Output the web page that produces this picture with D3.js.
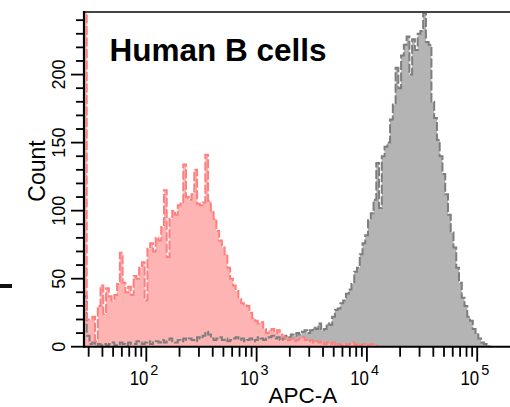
<!DOCTYPE html>
<html>
<head>
<meta charset="utf-8">
<script src="https://cdn.jsdelivr.net/npm/d3@7"></script>
<style>
  body { margin: 0; background: #fff; }
  svg { display: block; font-family: "Liberation Sans", Arial, sans-serif; }
</style>
</head>
<body>
<svg id="chart" width="510" height="407"></svg>
<script>
///////////////////Data////////////////////////////
// histogram channels start at 10^binLog0, each one binStep decades wide
var binLog0 = 1.435;
var binStep = 0.025;

// red = stained sample, counts per channel
var redCounts = [400, 20, 20, 22, 4, 30, 45, 24, 43, 37,
  34, 38, 46, 69, 47, 40, 44, 38, 52, 50,
  58, 62, 34, 72, 76, 70, 80, 78, 88, 115,
  66, 94, 100, 97, 104, 106, 134, 110, 108, 112,
  130, 105, 104, 106, 141, 107, 100, 94, 85, 78,
  73, 68, 58, 50, 45, 41, 35, 32, 31, 30,
  25, 21, 19, 17, 18, 13, 10, 12, 13, 10,
  12, 9, 7, 6, 5, 6, 4, 5, 6, 7,
  5, 4, 5, 3, 4, 3, 4, 2, 3, 2,
  3, 1, 2, 1, 2, 1, 2, 3, 1, 2,
  1, 2, 1, 1, 2, 1, 0];

// gray = second sample
var grayCounts = [37, 8, 2, 3, 1, 2, 1, 2, 1, 2,
  3, 1, 2, 3, 2, 1, 3, 2, 2, 4,
  3, 2, 3, 4, 2, 3, 4, 3, 5, 3,
  4, 6, 4, 3, 5, 4, 6, 5, 6, 5,
  4, 7, 6, 8, 11, 9, 6, 5, 6, 7,
  5, 6, 4, 5, 6, 7, 5, 6, 4, 5,
  6, 4, 5, 7, 6, 5, 6, 7, 8, 6,
  7, 5, 6, 8, 7, 9, 8, 10, 9, 11,
  12, 10, 12, 14, 13, 17, 12, 13, 17, 16,
  22, 27, 28, 32, 34, 39, 42, 46, 55, 58,
  68, 76, 82, 93, 98, 108, 135, 102, 140, 147,
  150, 167, 178, 205, 190, 214, 222, 228, 200, 226,
  218, 230, 232, 245, 224, 222, 180, 168, 152, 140,
  127, 112, 97, 84, 73, 58, 47, 36, 30, 22,
  19, 13, 10, 6, 3, 2, 1, 0];

var xMajor = [2, 3, 4, 5];           // exponents of labelled decades
var yTicks = d3.range(0, 250, 10);
var yLabels = [0, 50, 100, 150, 200];

var title = "Human B cells";
var xTitle = "APC-A";
var yTitle = "Count";

///////////////////Scales////////////////////////////
var svg = d3.select("#chart");
var pLeft = 84, pRight = 510.3, pTop = 12, pBottom = 346.7;

var x = d3.scaleLog()
  .domain([Math.pow(10, 1.435), Math.pow(10, 5.3)])
  .range([pLeft, pRight]);
var y = d3.scaleLinear()
  .domain([0, 246])
  .range([pBottom, pTop]);

svg.append("clipPath").attr("id", "plotClip")
  .append("rect")
  .attr("x", pLeft).attr("y", pTop)
  .attr("width", pRight - pLeft).attr("height", pBottom - pTop);

// turn counts into step points: start at 0, one point per channel edge, back to 0
function stepPoints(counts) {
  var pts = [{e: Math.pow(10, binLog0), c: 0}];
  counts.forEach(function(c, i) {
    pts.push({e: Math.pow(10, binLog0 + i * binStep), c: c});
  });
  pts.push({e: Math.pow(10, binLog0 + counts.length * binStep), c: 0});
  return pts;
}

var area = d3.area().curve(d3.curveStepAfter)
  .x(function(d) { return x(d.e); })
  .y0(pBottom)
  .y1(function(d) { return y(d.c); });
var line = d3.line().curve(d3.curveStepAfter)
  .x(function(d) { return x(d.e); })
  .y(function(d) { return y(d.c); });

var plot = svg.append("g").attr("clip-path", "url(#plotClip)");
var gray = stepPoints(grayCounts);
var red = stepPoints(redCounts);

plot.append("path").attr("d", area(gray)).attr("fill", "#b4b4b4");
plot.append("path").attr("d", area(red)).attr("fill", "#ffb4b4");
plot.append("path").attr("d", line(gray))
  .attr("fill", "none").attr("stroke", "#7d7d7d")
  .attr("stroke-width", 2).attr("stroke-dasharray", "9,2.5");
plot.append("path").attr("d", line(red))
  .attr("fill", "none").attr("stroke", "#ff7f7f")
  .attr("stroke-width", 2).attr("stroke-dasharray", "9,2.5");

///////////////////Frame + axes////////////////////////////
svg.append("line")
  .attr("x1", pLeft).attr("x2", 510).attr("y1", pTop).attr("y2", pTop)
  .attr("stroke", "#444").attr("stroke-width", 2);
svg.append("line")
  .attr("x1", pLeft).attr("x2", pLeft).attr("y1", pTop - 1).attr("y2", pBottom + 1)
  .attr("stroke", "#000").attr("stroke-width", 2.2);
svg.append("line")
  .attr("x1", pLeft).attr("x2", 510).attr("y1", pBottom).attr("y2", pBottom)
  .attr("stroke", "#000").attr("stroke-width", 2);

// y ticks, longer on labelled values
svg.append("g").selectAll("line").data(yTicks).enter().append("line")
  .attr("x1", function(d) { return yLabels.indexOf(d) >= 0 ? pLeft - 13 : pLeft - 8; })
  .attr("x2", pLeft)
  .attr("y1", function(d) { return y(d); })
  .attr("y2", function(d) { return y(d); })
  .attr("stroke", "#000").attr("stroke-width", 1.8);

svg.append("g").selectAll("text").data(yLabels).enter().append("text")
  .attr("transform", function(d) { return "translate(65," + y(d) + ") rotate(-90)"; })
  .attr("text-anchor", "middle")
  .attr("font-size", 18)
  .text(function(d) { return d; });

// x ticks: 2..9 inside each decade, long tick on the decade
var xTicks = [];
for (var k = 1; k <= 5; k++) {
  for (var m = 1; m <= 9; m++) {
    var v = m * Math.pow(10, k);
    if (x(v) >= pLeft + 2 && x(v) <= pRight - 1) xTicks.push({v: v, major: m == 1});
  }
}
svg.append("g").selectAll("line").data(xTicks).enter().append("line")
  .attr("x1", function(d) { return x(d.v); })
  .attr("x2", function(d) { return x(d.v); })
  .attr("y1", pBottom)
  .attr("y2", function(d) { return d.major ? pBottom + 15 : pBottom + 10; })
  .attr("stroke", "#000").attr("stroke-width", 1.8);

var xLab = svg.append("g").selectAll("g").data(xMajor).enter().append("g")
  .attr("transform", function(d) { return "translate(" + x(Math.pow(10, d)) + ",0)"; });
xLab.append("text")
  .attr("transform", "translate(2,385) scale(0.8,1)")
  .attr("text-anchor", "end")
  .attr("font-size", 21)
  .text("10");
xLab.append("text")
  .attr("x", 4).attr("y", 375)
  .attr("font-size", 14.5)
  .text(function(d) { return d; });

///////////////////Titles////////////////////////////
svg.append("text")
  .attr("x", 303).attr("y", 402.5)
  .attr("text-anchor", "middle")
  .attr("font-size", 22.5)
  .text(xTitle);
svg.append("text")
  .attr("transform", "translate(45,171) rotate(-90)")
  .attr("text-anchor", "middle")
  .attr("font-size", 23)
  .text(yTitle);
svg.append("text")
  .attr("x", 109.5).attr("y", 60.5)
  .attr("font-size", 31.5).attr("font-weight", "bold")
  .text(title);

// small dark mark at the left edge of the picture
svg.append("rect")
  .attr("x", 0).attr("y", 284).attr("width", 12).attr("height", 4)
  .attr("fill", "#111");
</script>
</body>
</html>
